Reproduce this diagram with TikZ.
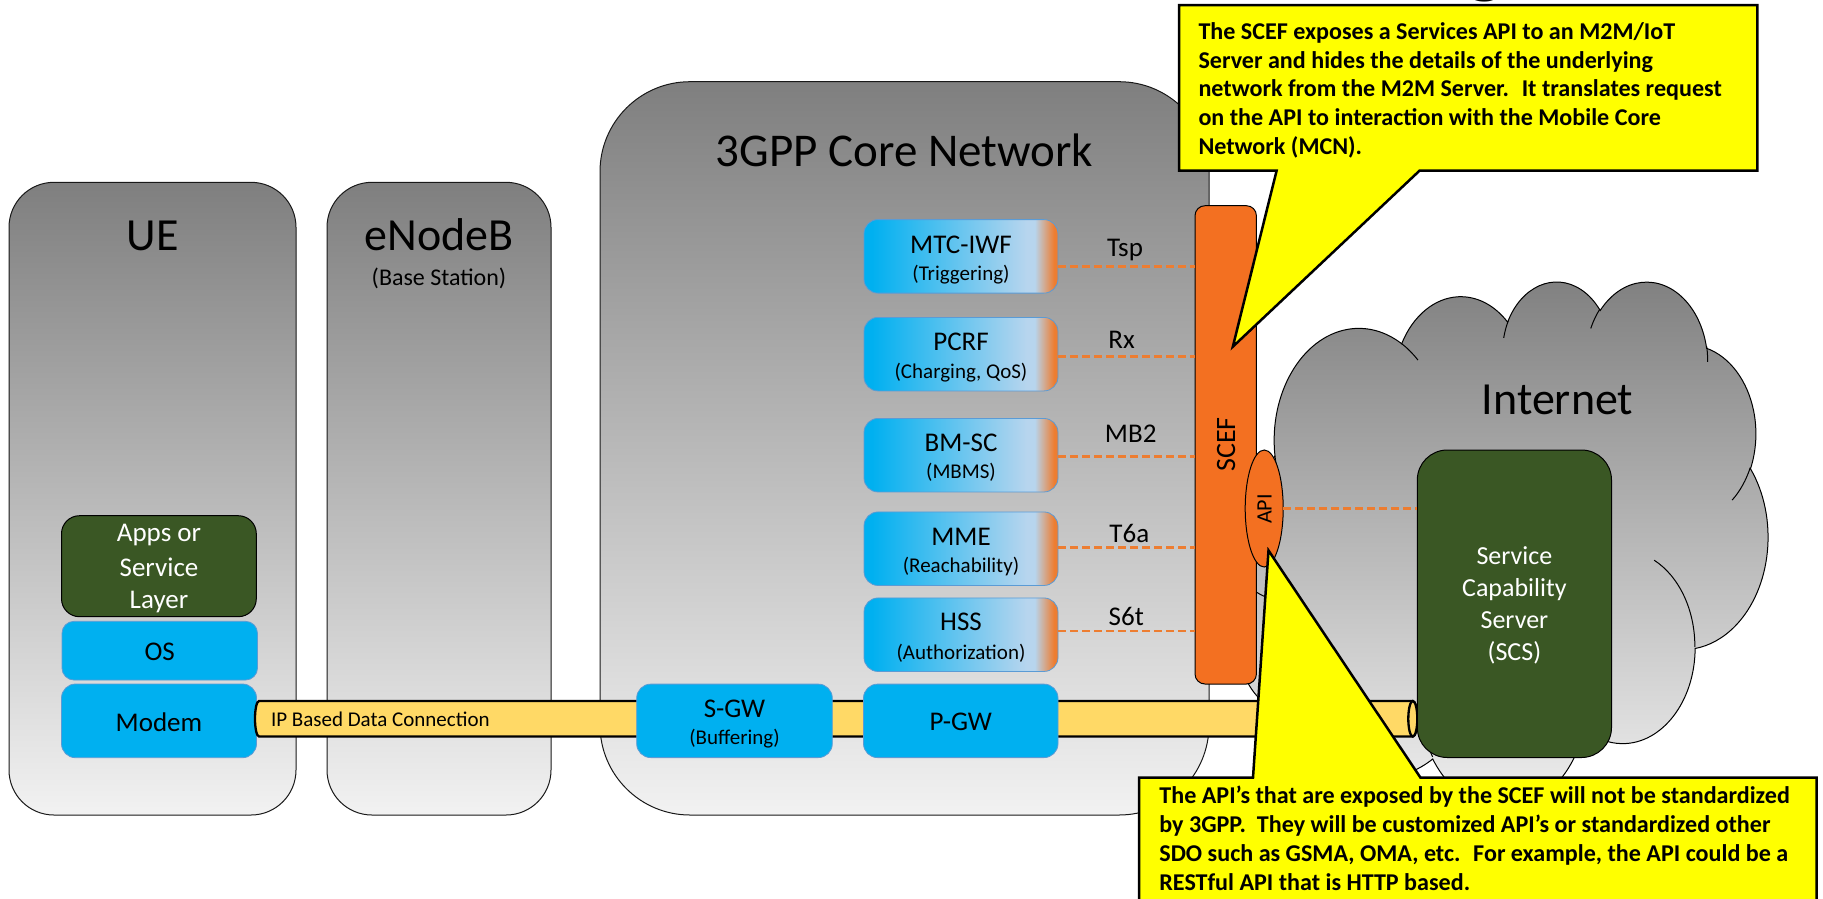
\documentclass[tikz,border=0pt]{standalone}
\usepackage{fontspec}
\setmainfont{Carlito}
\usetikzlibrary{calc,shapes.geometric}
\definecolor{gtop}{HTML}{7F7F7F}
\definecolor{gbot}{HTML}{F2F2F2}
\definecolor{cyanb}{HTML}{00B0F0}
\definecolor{lightb}{HTML}{B7D5EE}
\definecolor{orng}{HTML}{ED7D31}
\definecolor{scefo}{HTML}{F37021}
\definecolor{dgreen}{HTML}{3A5724}
\definecolor{pipey}{HTML}{FFD966}
\definecolor{bluebd}{HTML}{5B9BD5}
\definecolor{yell}{HTML}{FFFF00}
\pgfdeclarehorizontalshading{fnshade}{100bp}{color(0bp)=(cyanb); color(27bp)=(cyanb); color(67bp)=(lightb); color(69bp)=(lightb); color(74bp)=(orng); color(100bp)=(orng)}
\begin{document}
\begin{tikzpicture}[x=1pt,y=-1pt,
  every node/.style={inner sep=0pt, outer sep=0pt},
  graybox/.style={draw=black!90, line width=1pt, top color=gtop, bottom color=gbot},
  bluebox/.style={draw=bluebd, line width=0.8pt, fill=cyanb, rounded corners=14pt},
  fnbox/.style={draw=bluebd, line width=0.8pt, shade, shading=fnshade, rounded corners=14pt, minimum width=194pt, minimum height=73.5pt},
  greenbox/.style={draw=black, line width=1pt, fill=dgreen},
  dashl/.style={draw=orng, line width=2.4pt, dash pattern=on 8pt off 4pt},
  callout/.style={draw=black, line width=2.5pt, fill=yell, line join=miter},
  ftbig/.style={font=\fontsize{46}{50}\selectfont},
  ftmid/.style={font=\fontsize{27}{32}\selectfont},
  ftsub/.style={font=\fontsize{21}{25}\selectfont},
  ftcall/.style={font=\bfseries\fontsize{24.1}{29}\selectfont, anchor=base west},
  pipe/.style={draw=black, line width=2.3pt, fill=pipey}]
\useasboundingbox (0,0) rectangle (1823,898);

% fragment of the title above the picture
\node[anchor=base, font=\bfseries\fontsize{80}{80}\selectfont] (ttl) at (1485,-12) {g};

% ---------- big gray containers ----------
\node[graybox, rounded corners=45pt, minimum width=287pt, minimum height=632.7pt] (ue) at (152.5,498.65) {};
\node[graybox, rounded corners=45pt, minimum width=224pt, minimum height=632.7pt] (enb) at (439,498.65) {};
\node[graybox, rounded corners=90pt, minimum width=609pt, minimum height=733.3pt] (core) at (904.5,448.35) {};
\node[ftbig, anchor=base] (uet) at (152.5,250) {UE};
\node[ftbig, anchor=base] (enbt) at (439,250) {eNodeB};
\node[anchor=base, font=\fontsize{24}{28}\selectfont] (enbs) at (439,285) {(Base Station)};
\node[anchor=base, font=\fontsize{47}{52}\selectfont] (coret) at (904.5,166) {3GPP Core Network};

% ---------- Internet cloud ----------
\begin{scope}[shift={(1226pt,-280.3pt)}, x=0.0125417pt, y=-0.0121968pt]
\draw[line width=1pt, top color=gtop, bottom color=gbot] (3900,14370)
 arc[start angle=172.25, end angle=300.36, x radius=6753, y radius=9190]
 arc[start angle=-152.02, end angle=-45.46, x radius=5333, y radius=7267]
 arc[start angle=-153.50, end angle=-37.33, x radius=4365, y radius=5945]
 arc[start angle=-139.71, end angle=-10.21, x radius=4857, y radius=6595]
 arc[start angle=-74.77, end angle=23.21, x radius=5333, y radius=7273]
 arc[start angle=-37.52, end angle=81.86, x radius=6775, y radius=9220]
 arc[start angle=0.46, end angle=121.97, x radius=5785, y radius=7867]
 arc[start angle=16.84, end angle=146.23, x radius=6752, y radius=9215]
 arc[start angle=58.98, end angle=150.19, x radius=7720, y radius=10543]
 arc[start angle=83.31, end angle=223.10, x radius=4360, y radius=5918]
 arc[start angle=120.35, end angle=264.11, x radius=4345, y radius=5945]
 -- cycle;
\draw[line width=1pt]
 (4693,26177) arc[start angle=85.55, end angle=120.35, x radius=4345, y radius=5945]
 (6928,34899) arc[start angle=68.24, end angle=83.31, x radius=4360, y radius=5918]
 (16478,39090) arc[start angle=146.23, end angle=158.48, x radius=6752, y radius=9215]
 (28827,34751) arc[start angle=4.74, end angle=16.84, x radius=6752, y radius=9215]
 (34129,22954) arc[start angle=-64.03, end angle=0.46, x radius=5785, y radius=7867]
 (41798,15354) arc[start angle=23.21, end angle=49.65, x radius=5333, y radius=7273]
 (38324,5426) arc[start angle=-10.21, end angle=0.82, x radius=4857, y radius=6595]
 (29078,3952) arc[start angle=-156.29, end angle=-139.71, x radius=4857, y radius=6595]
 (22141,4720) arc[start angle=-167.73, end angle=-153.50, x radius=4365, y radius=5945]
 (14000,5192) arc[start angle=-59.64, end angle=-45.74, x radius=6753, y radius=9190]
 (4127,15789) arc[start angle=163.19, end angle=172.25, x radius=6753, y radius=9190];
\end{scope}
\node[ftbig, anchor=base] (inet) at (1557.5,414.3) {Internet};

% ---------- UE stack ----------
\node[greenbox, rounded corners=18pt, minimum width=194.8pt, minimum height=101pt] (apps) at (158.9,566.2) {};
\node[bluebox, minimum width=195.5pt, minimum height=58.7pt, rounded corners=12pt] (os) at (159.75,650.65) {};
\node[bluebox, minimum width=195pt, minimum height=73.7pt] (modem) at (159,720.85) {};
\node[ftmid, anchor=base, text=white] (appt1) at (159,541.7) {Apps or};
\node[ftmid, anchor=base, text=white] (appt2) at (159,576) {Service};
\node[ftmid, anchor=base, text=white] (appt3) at (159,608.3) {Layer};
\node[ftmid, anchor=base] (ost) at (159.75,660) {OS};
\node[ftmid, anchor=base] (modemt) at (159,731) {Modem};

% ---------- IP pipe ----------
\coordinate (pipeL) at (259,718.75);
\coordinate (pipeR) at (1412.8,718.75);
\draw[pipe] (259,701) -- (1412.8,701)
  arc[start angle=-90, end angle=90, x radius=4.5, y radius=17.75]
  -- (259,736.5)
  arc[start angle=90, end angle=270, x radius=4, y radius=17.75] -- cycle;
\draw[pipe] (pipeR) ellipse[x radius=4.5, y radius=17.75];
\node[ftsub, anchor=base west] (ipt) at (271,726.7) {IP Based Data Connection};

% ---------- gateways ----------
\node[bluebox, minimum width=195.6pt, minimum height=73.5pt] (sgw) at (734.5,720.85) {};
\node[bluebox, minimum width=194.5pt, minimum height=73.5pt] (pgw) at (960.75,720.85) {};
\node[ftmid, anchor=base] (sgwt) at (734.5,717.4) {S-GW};
\node[ftsub, anchor=base] (sgws) at (734.5,744.8) {(Buffering)};
\node[ftmid, anchor=base] (pgwt) at (960.75,730) {P-GW};

% ---------- core functions ----------
\node[fnbox] (mtc) at (961,256.35) {};
\node[fnbox] (pcrf) at (961,354.15) {};
\node[fnbox] (bmsc) at (961,455.2) {};
\node[fnbox] (mme) at (961,548.7) {};
\node[fnbox] (hss) at (961,634.7) {};
\node[ftmid, anchor=base] (mtct) at (961,253.3) {MTC-IWF};
\node[ftsub, anchor=base] (mtcs) at (961,280.6) {(Triggering)};
\node[ftmid, anchor=base] (pcrft) at (961,350.7) {PCRF};
\node[ftsub, anchor=base] (pcrfs) at (961,378.1) {(Charging, QoS)};
\node[ftmid, anchor=base] (bmsct) at (961,451.2) {BM-SC};
\node[ftsub, anchor=base] (bmscs) at (961,478.8) {(MBMS)};
\node[ftmid, anchor=base] (mmet) at (961,545.2) {MME};
\node[ftsub, anchor=base] (mmes) at (961,572.7) {(Reachability)};
\node[ftmid, anchor=base] (hsst) at (961,630.6) {HSS};
\node[ftsub, anchor=base] (hsss) at (961,659) {(Authorization)};

% ---------- SCEF, API, SCS ----------
\node[draw=black, line width=1pt, fill=scefo, rounded corners=10pt, minimum width=61.4pt, minimum height=478.3pt] (scef) at (1225.7,444.85) {};
\node[font=\fontsize{28}{32}\selectfont, rotate=90] (sceft) at (1226,444.5) {SCEF};
\node[draw=black, line width=1pt, fill=scefo, ellipse, minimum width=38pt, minimum height=117pt] (api) at (1264.2,508.5) {};
\node[font=\fontsize{22}{26}\selectfont, rotate=90] (apit) at (1264.5,509) {API};
\node[greenbox, rounded corners=30pt, minimum width=194.2pt, minimum height=307.5pt] (scs) at (1514.4,603.75) {};
\node[anchor=base, text=white, font=\fontsize{26}{30}\selectfont] (scs1) at (1514.4,564.3) {Service};
\node[anchor=base, text=white, font=\fontsize{26}{30}\selectfont] (scs2) at (1514.4,596.4) {Capability};
\node[anchor=base, text=white, font=\fontsize{26}{30}\selectfont] (scs3) at (1514.4,628.6) {Server};
\node[anchor=base, text=white, font=\fontsize{26}{30}\selectfont] (scs4) at (1514.4,660.7) {(SCS)};

% ---------- reference points ----------
\coordinate (tspA) at ([yshift=-10pt]mtc.east);
\coordinate (rxA) at ([yshift=-2.4pt]pcrf.east);
\coordinate (mbA) at ([yshift=-1.3pt]bmsc.east);
\coordinate (t6A) at ([yshift=1.4pt]mme.east);
\coordinate (s6A) at ([yshift=4pt]hss.east);
\draw[dashl] (tspA) -- (tspA -| scef.west);
\draw[dashl] (rxA) -- (rxA -| scef.west);
\draw[dashl] (mbA) -- (mbA -| scef.west);
\draw[dashl] (t6A) -- (t6A -| scef.west);
\draw[dashl] (s6A) -- (s6A -| scef.west);
\draw[dashl] (api.east) -- (api.east -| scs.west);
\node[ftmid, anchor=base] (tspl) at (1125,256.7) {Tsp};
\node[ftmid, anchor=base] (rxl) at (1121.6,348.7) {Rx};
\node[ftmid, anchor=base] (mbl) at (1130.7,442.7) {MB2};
\node[ftmid, anchor=base] (t6l) at (1129.3,542.7) {T6a};
\node[ftmid, anchor=base] (s6l) at (1126.3,625) {S6t};

% ---------- callouts ----------
\draw[callout] (1179.2,5) -- (1757.3,5) -- (1757.3,170.7) -- (1419.5,170.7)
  -- (1232.8,346.7) -- (1276.6,170.7) -- (1179.2,170.7) -- cycle;
\node[ftcall] (c1a) at (1198.5,39.3) {The SCEF exposes a Services API to an M2M/IoT};
\node[ftcall] (c1b) at (1198.5,68.3) {Server and hides the details of the underlying};
\node[ftcall] (c1c) at (1198.5,96.7) {network from the M2M Server.~ It translates request};
\node[ftcall] (c1d) at (1198.5,125.7) {on the API to interaction with the Mobile Core};
\node[ftcall] (c1e) at (1198.5,154) {Network (MCN).};

\draw[callout] (1139,777.5) -- (1253,777.5) -- (1268.5,550.5) -- (1420.4,777.5)
  -- (1816.5,777.5) -- (1816.5,930) -- (1139,930) -- cycle;
\node[ftcall] (c2a) at (1159.4,803.3) {The API’s that are exposed by the SCEF will not be standardized};
\node[ftcall] (c2b) at (1159.4,832.3) {by 3GPP.~ They will be customized API’s or standardized other};
\node[ftcall] (c2c) at (1159.4,861) {SDO such as GSMA, OMA, etc.~ For example, the API could be a};
\node[ftcall] (c2d) at (1159.4,890) {RESTful API that is HTTP based.};
\end{tikzpicture}
\end{document}
